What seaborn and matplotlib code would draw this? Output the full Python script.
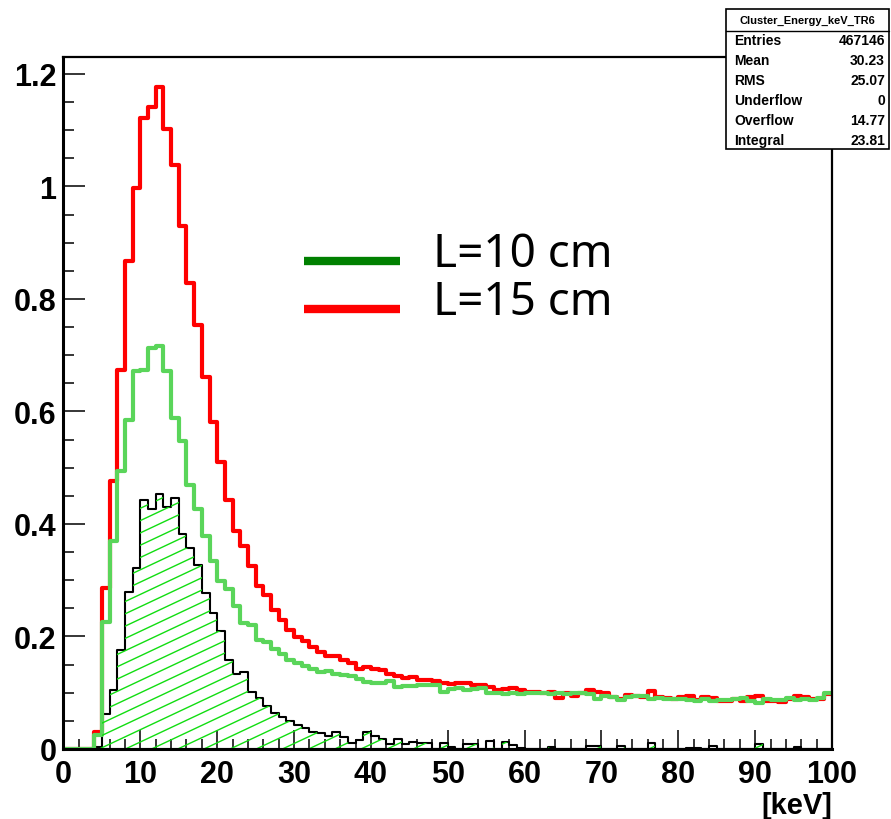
import numpy as np
import pandas as pd
import matplotlib
matplotlib.use("Agg")
import matplotlib.pyplot as plt
import seaborn as sns
from matplotlib.lines import Line2D
from matplotlib.patches import Rectangle
from matplotlib.collections import LineCollection
from matplotlib.legend_handler import HandlerLine2D
from matplotlib.ticker import MultipleLocator, FuncFormatter

# 1 keV bins from 0 to 100 keV
bin_edges = list(range(0, 101))

# L=15 cm (red)
red_15cm = [
    0, 0, 0, 0, 0.031, 0.287, 0.477, 0.674, 0.868, 0.998,
    1.121, 1.141, 1.176, 1.102, 1.038, 0.930, 0.829, 0.754, 0.662, 0.582,
    0.511, 0.442, 0.388, 0.361, 0.326, 0.290, 0.273, 0.247, 0.229, 0.212,
    0.199, 0.192, 0.182, 0.172, 0.166, 0.166, 0.158, 0.152, 0.142, 0.145,
    0.142, 0.140, 0.133, 0.130, 0.127, 0.128, 0.123, 0.122, 0.120, 0.118,
    0.116, 0.117, 0.117, 0.113, 0.114, 0.111, 0.105, 0.106, 0.108, 0.104,
    0.102, 0.102, 0.100, 0.101, 0.091, 0.099, 0.095, 0.099, 0.105, 0.101,
    0.099, 0.092, 0.089, 0.096, 0.094, 0.092, 0.103, 0.092, 0.090, 0.088,
    0.092, 0.094, 0.087, 0.092, 0.090, 0.085, 0.086, 0.089, 0.086, 0.093,
    0.094, 0.085, 0.085, 0.083, 0.088, 0.095, 0.093, 0.088, 0.089, 0.098,
]

# L=10 cm (green)
green_10cm = [
    0, 0, 0, 0, 0.024, 0.225, 0.370, 0.495, 0.584, 0.671,
    0.673, 0.712, 0.717, 0.671, 0.588, 0.547, 0.470, 0.427, 0.379, 0.334,
    0.299, 0.284, 0.254, 0.224, 0.220, 0.194, 0.190, 0.177, 0.168, 0.158,
    0.153, 0.147, 0.143, 0.137, 0.139, 0.133, 0.132, 0.129, 0.124, 0.119,
    0.117, 0.117, 0.120, 0.110, 0.112, 0.112, 0.114, 0.114, 0.114, 0.102,
    0.107, 0.108, 0.105, 0.106, 0.108, 0.100, 0.099, 0.097, 0.099, 0.097,
    0.099, 0.099, 0.099, 0.097, 0.099, 0.097, 0.099, 0.099, 0.097, 0.088,
    0.094, 0.092, 0.087, 0.092, 0.095, 0.095, 0.089, 0.090, 0.089, 0.089,
    0.089, 0.087, 0.085, 0.089, 0.085, 0.087, 0.087, 0.089, 0.090, 0.085,
    0.082, 0.089, 0.087, 0.087, 0.090, 0.087, 0.089, 0.087, 0.090, 0.099,
]

# hatched histogram with black outline
black_hatched = [
    0, 0, 0, 0, 0.004, 0.062, 0.104, 0.176, 0.279, 0.322,
    0.443, 0.427, 0.454, 0.430, 0.446, 0.383, 0.358, 0.327, 0.278, 0.242,
    0.209, 0.159, 0.133, 0.137, 0.102, 0.091, 0.076, 0.064, 0.057, 0.050,
    0.042, 0.037, 0.031, 0.028, 0.023, 0.030, 0.022, 0.011, 0.016, 0.031,
    0.023, 0.018, 0.008, 0.017, 0.008, 0.012, 0.010, 0.010, 0.0, 0.010,
    0.003, 0.0, 0.008, 0.008, 0.0, 0.014, 0.0, 0.012, 0.007, 0.002,
    0.0, 0.0, 0.0, 0.003, 0.0, 0.0, 0.0, 0.0, 0.006, 0.006,
    0.0, 0.0, 0.006, 0.0, 0.0, 0.0, 0.011, 0.0, 0.0, 0.0,
    0.0, 0.002, 0.002, 0.0, 0.006, 0.0, 0.0, 0.0, 0.0, 0.0,
    0.008, 0.0, 0.0, 0.0, 0.0, 0.003, 0.0, 0.0, 0.0, 0.0,
]

legend_labels = ["L=10 cm", "L=15 cm"]
stat_title = "Cluster_Energy_keV_TR6"
stat_names = ["Entries", "Mean", "RMS", "Underflow", "Overflow", "Integral"]
stat_values = ["467146", "30.23", "25.07", "0", "14.77", "23.81"]

sns.set_style("white")
plt.rcParams["font.family"] = ["Liberation Sans", "DejaVu Sans"]
plt.rcParams["font.weight"] = "bold"
plt.rcParams["text.color"] = "black"
plt.rcParams["axes.labelcolor"] = "black"
plt.rcParams["xtick.color"] = "black"
plt.rcParams["ytick.color"] = "black"


class LowLine(HandlerLine2D):
    # legend line sits a little below the text centre, as in the original
    def create_artists(self, *args, **kwargs):
        arts = super().create_artists(*args, **kwargs)
        for a in arts:
            a.set_ydata(np.asarray(a.get_ydata()) - 8)
        return arts


centers = np.array(bin_edges[:-1]) + 0.5
df = pd.DataFrame({"keV": centers, "l15": red_15cm, "l10": green_10cm, "sel": black_hatched})

W, H = 891, 820
fig = plt.figure(figsize=(W / 100, H / 100), dpi=100)
ax = fig.add_axes([63.5 / W, (H - 750) / H, (832 - 63.5) / W, (750 - 58) / H])

# red first, green over it, hatched on top (ROOT draw order)
sns.histplot(data=df, x="keV", weights="l15", bins=bin_edges, element="step",
             fill=False, color="#ff0000", linewidth=3, ax=ax)
sns.histplot(data=df, x="keV", weights="l10", bins=bin_edges, element="step",
             fill=False, color="#5ad55a", linewidth=3, ax=ax)
sns.histplot(data=df, x="keV", weights="sel", bins=bin_edges, element="step",
             fill=True, color="black", facecolor="none", edgecolor="black",
             linewidth=1.5, ax=ax)
poly = ax.collections[-1]

# green hatching clipped to the black histogram
aw, ah = 832 - 63.5, 750 - 58
slope = 0.47 * aw / ah
step = 12.3 / ah
segs = [[(0, c), (1, c + slope)] for c in np.arange(-slope, 1.0, step)]
hatch = LineCollection(segs, colors="#11dd11", linewidths=1.0, transform=ax.transAxes)
ax.add_collection(hatch)
hatch.set_clip_path(poly.get_paths()[0], poly.get_transform())

ax.set_xlim(0, 100)
ax.set_ylim(0, 1.23)
ax.set_ylabel("")
ax.set_xlabel("[keV]", loc="right", fontsize=21, fontweight="bold", labelpad=2)

ax.xaxis.set_major_locator(MultipleLocator(10))
ax.xaxis.set_minor_locator(MultipleLocator(2))
ax.yaxis.set_major_locator(MultipleLocator(0.2))
ax.yaxis.set_minor_locator(MultipleLocator(0.05))
ax.yaxis.set_major_formatter(FuncFormatter(lambda v, p: "%g" % round(v, 2)))
ax.tick_params(which="both", direction="in", bottom=True, left=True,
               top=False, right=False, color="black")
ax.tick_params(axis="x", which="major", length=14, width=1.1, labelsize=22, pad=7)
ax.tick_params(axis="x", which="minor", length=7, width=1.1)
ax.tick_params(axis="y", which="major", length=16, width=1.1, labelsize=22, pad=5)
ax.tick_params(axis="y", which="minor", length=8, width=1.1)
for s in ["left", "bottom"]:
    ax.spines[s].set_linewidth(2.2)
for s in ["top", "right"]:
    ax.spines[s].set_linewidth(1.6)
for s in ax.spines.values():
    s.set_color("black")

# legend
handles = [Line2D([], [], color="#008000", linewidth=6, solid_capstyle="butt"),
           Line2D([], [], color="#ff0000", linewidth=6, solid_capstyle="butt")]
ax.legend(handles, legend_labels, loc="upper left",
          bbox_to_anchor=(304 / W, 1 - 232 / H), bbox_transform=fig.transFigure,
          frameon=False, borderpad=0, borderaxespad=0, handlelength=2.1,
          handletextpad=0.72, labelspacing=0.05,
          handler_map={Line2D: LowLine()},
          prop={"family": "Noto Sans", "size": 33, "weight": "normal"})

# stats box
box = Rectangle((726 / W, 1 - 150 / H), (889 - 726) / W, (150 - 10) / H,
                transform=fig.transFigure, facecolor="white", edgecolor="black",
                linewidth=1.2, zorder=5)
fig.patches.append(box)
fig.add_artist(Line2D([726 / W, 889 / W], [1 - 32 / H, 1 - 32 / H], color="black",
                      linewidth=1.0, zorder=6))
fig.text(807 / W, 1 - 21 / H, stat_title, ha="center", va="center",
         fontsize=8, fontweight="bold", zorder=7)
for i, (name, val) in enumerate(zip(stat_names, stat_values)):
    y = 1 - (41 + 20 * i) / H
    fig.text(734 / W, y, name, ha="left", va="center", fontsize=10, fontweight="bold", zorder=7)
    fig.text(885 / W, y, val, ha="right", va="center", fontsize=10, fontweight="bold", zorder=7)

fig.savefig("out.png", dpi=100, facecolor="white")
